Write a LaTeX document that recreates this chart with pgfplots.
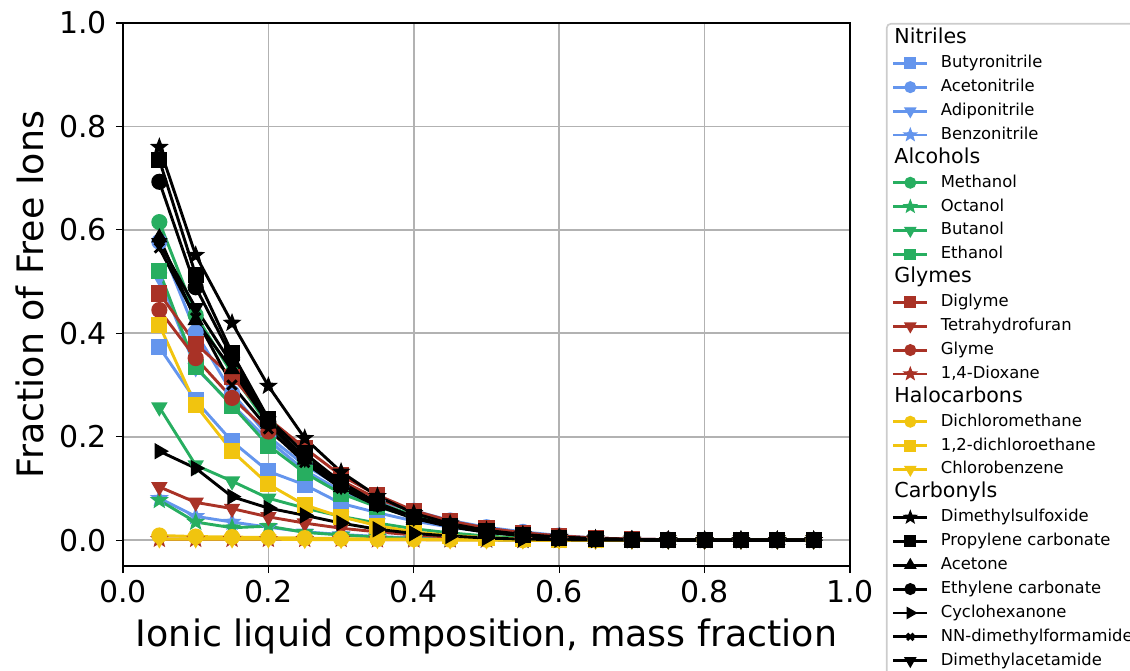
\documentclass[border=0pt]{standalone}
\usepackage{pgfplots}
\pgfplotsset{compat=1.18}
\usepackage{pgfplotstable}
\usetikzlibrary{plotmarks}
\usepackage{fontspec}
\setmainfont{DejaVu Sans}
\definecolor{cblue}{RGB}{100,149,237}
\definecolor{cgreen}{RGB}{39,174,96}
\definecolor{cred}{RGB}{169,50,38}
\definecolor{cyellow}{RGB}{241,196,15}
\pgfdeclareplotmark{fstar}{%
  \pgfpathmoveto{\pgfpointpolar{90}{\pgfplotmarksize}}%
  \pgfpathlineto{\pgfpointpolar{126}{0.42\pgfplotmarksize}}%
  \pgfpathlineto{\pgfpointpolar{162}{\pgfplotmarksize}}%
  \pgfpathlineto{\pgfpointpolar{198}{0.42\pgfplotmarksize}}%
  \pgfpathlineto{\pgfpointpolar{234}{\pgfplotmarksize}}%
  \pgfpathlineto{\pgfpointpolar{270}{0.42\pgfplotmarksize}}%
  \pgfpathlineto{\pgfpointpolar{306}{\pgfplotmarksize}}%
  \pgfpathlineto{\pgfpointpolar{342}{0.42\pgfplotmarksize}}%
  \pgfpathlineto{\pgfpointpolar{18}{\pgfplotmarksize}}%
  \pgfpathlineto{\pgfpointpolar{54}{0.42\pgfplotmarksize}}%
  \pgfpathclose
  \pgfusepathqfillstroke}

\pgfplotstableread{
x    bu    ac    ad    bz
0.05 0.373 0.577 0.508 0.081
0.10 0.270 0.402 0.333 0.046
0.15 0.191 0.285 0.262 0.035
0.20 0.133 0.200 0.193 0.025
0.25 0.107 0.145 0.135 0.016
0.30 0.071 0.103 0.095 0.011
0.35 0.053 0.075 0.068 0.007
0.40 0.037 0.057 0.048 0.004
0.45 0.025 0.038 0.032 0.002
0.50 0.016 0.025 0.021 0.001
0.55 0.010 0.016 0.013 0.000
0.60 0.006 0.009 0.007 0.000
0.65 0.003 0.004 0.003 0.000
0.70 0.001 0.002 0.001 0.000
0.75 0.000 0.001 0.000 0.000
0.80 0.000 0.000 0.000 0.000
0.85 0.000 0.000 0.000 0.000
0.90 0.000 0.000 0.000 0.000
0.95 0.000 0.000 0.000 0.000
}\nitriles

\pgfplotstableread{
x    me    oc    bu    et
0.05 0.615 0.077 0.257 0.520
0.10 0.435 0.035 0.145 0.335
0.15 0.322 0.024 0.114 0.260
0.20 0.222 0.027 0.081 0.183
0.25 0.155 0.015 0.062 0.130
0.30 0.105 0.010 0.046 0.090
0.35 0.072 0.006 0.033 0.064
0.40 0.048 0.003 0.022 0.045
0.45 0.031 0.002 0.014 0.030
0.50 0.019 0.001 0.008 0.019
0.55 0.011 0.000 0.004 0.011
0.60 0.006 0.000 0.002 0.006
0.65 0.003 0.000 0.001 0.003
0.70 0.001 0.000 0.000 0.001
0.75 0.000 0.000 0.000 0.000
0.80 0.000 0.000 0.000 0.000
0.85 0.000 0.000 0.000 0.000
0.90 0.000 0.000 0.000 0.000
0.95 0.000 0.000 0.000 0.000
}\alcohols

\pgfplotstableread{
x    di    th    gl    dx
0.05 0.477 0.103 0.445 0.002
0.10 0.380 0.073 0.352 0.002
0.15 0.316 0.061 0.275 0.002
0.20 0.235 0.045 0.210 0.002
0.25 0.178 0.033 0.160 0.002
0.30 0.125 0.023 0.115 0.002
0.35 0.087 0.016 0.080 0.001
0.40 0.057 0.010 0.055 0.001
0.45 0.037 0.006 0.036 0.001
0.50 0.023 0.003 0.023 0.001
0.55 0.014 0.002 0.014 0.000
0.60 0.008 0.001 0.008 0.000
0.65 0.004 0.000 0.004 0.000
0.70 0.002 0.000 0.002 0.000
0.75 0.001 0.000 0.001 0.000
0.80 0.000 0.000 0.000 0.000
0.85 0.000 0.000 0.000 0.000
0.90 0.000 0.000 0.000 0.000
0.95 0.000 0.000 0.000 0.000
}\glymes

\pgfplotstableread{
x    dcm   dce   cb
0.05 0.009 0.416 0.002
0.10 0.007 0.261 0.002
0.15 0.006 0.172 0.002
0.20 0.005 0.108 0.002
0.25 0.004 0.068 0.001
0.30 0.003 0.045 0.001
0.35 0.002 0.028 0.001
0.40 0.002 0.016 0.001
0.45 0.001 0.009 0.000
0.50 0.001 0.005 0.000
0.55 0.000 0.002 0.000
0.60 0.000 0.001 0.000
0.65 0.000 0.000 0.000
0.70 0.000 0.000 0.000
0.75 0.000 0.000 0.000
0.80 0.000 0.000 0.000
0.85 0.000 0.000 0.000
0.90 0.000 0.000 0.000
0.95 0.000 0.000 0.000
}\halocarbons

\pgfplotstableread{
x    dmso  pc    acet  ec    cyc   dmf   dmac
0.05 0.760 0.735 0.585 0.693 0.172 0.565 0.575
0.10 0.551 0.513 0.425 0.489 0.139 0.430 0.449
0.15 0.420 0.362 0.330 0.353 0.084 0.300 0.340
0.20 0.298 0.235 0.225 0.228 0.062 0.215 0.230
0.25 0.197 0.168 0.155 0.160 0.048 0.150 0.158
0.30 0.132 0.112 0.102 0.108 0.033 0.100 0.105
0.35 0.085 0.072 0.068 0.070 0.021 0.066 0.070
0.40 0.052 0.045 0.043 0.044 0.013 0.042 0.044
0.45 0.032 0.028 0.027 0.027 0.008 0.026 0.027
0.50 0.019 0.017 0.016 0.016 0.004 0.015 0.016
0.55 0.011 0.010 0.009 0.009 0.002 0.009 0.009
0.60 0.006 0.005 0.005 0.005 0.001 0.005 0.005
0.65 0.003 0.002 0.002 0.002 0.000 0.002 0.002
0.70 0.001 0.001 0.001 0.001 0.000 0.001 0.001
0.75 0.000 0.000 0.000 0.000 0.000 0.000 0.000
0.80 0.000 0.000 0.000 0.000 0.000 0.000 0.000
0.85 0.000 0.000 0.000 0.000 0.000 0.000 0.000
0.90 0.000 0.000 0.000 0.000 0.000 0.000 0.000
0.95 0.000 0.000 0.000 0.000 0.000 0.000 0.000
}\carbonyls

\newcommand{\hdr}[1]{\hspace*{-23.2pt}\fontsize{10.3}{12}\selectfont #1}

\begin{document}
\begin{tikzpicture}
\begin{axis}[
  scale only axis,
  width=363.5pt, height=271.5pt,
  xmin=0, xmax=1, ymin=-0.05, ymax=1,
  xtick={0,0.2,0.4,0.6,0.8,1},
  ytick={0,0.2,0.4,0.6,0.8,1},
  /pgf/number format/.cd, fixed, fixed zerofill, precision=1, assume math mode=true,
  /pgfplots/.cd,
  tick label style={font=\fontsize{15}{17}\selectfont},
  yticklabel style={xshift=-1pt},
  xlabel={Ionic liquid composition, mass fraction},
  ylabel={Fraction of Free Ions},
  every axis x label/.style={at={(axis description cs:0.5,-0.129)}, anchor=center, font=\fontsize{18.2}{21}\selectfont},
  every axis y label/.style={at={(axis description cs:-0.128,0.5)}, anchor=center, rotate=90, font=\fontsize{18.2}{21}\selectfont},
  tick pos=left, tick align=outside,
  major tick length=3.5pt,
  tick style={black, line width=0.6pt},
  axis line style={line width=0.8pt},
  grid=major,
  grid style={color=black!30, line width=0.8pt},
  every axis plot/.append style={line width=1.45pt, mark size=3.3pt},
  legend cell align=left,
  legend image post style={every mark/.append style={scale=0.68}},
  legend style={at={(1.0495,1)}, anchor=north west, draw=black!20, line width=0.8pt,
    rounded corners=2pt, font=\fontsize{8.2}{9.8}\selectfont,
    inner xsep=2.5pt, inner ysep=1.8pt,
    column sep=4pt,
    nodes={text height=6.15pt, text depth=1.8pt, inner sep=2pt},
    row sep=0pt},
]
\addlegendimage{empty legend}\addlegendentry{\hdr{Nitriles}}
\addplot[cblue, mark=square*] table[x=x,y=bu]{\nitriles};\addlegendentry{Butyronitrile}
\addplot[cblue, mark=*] table[x=x,y=ac]{\nitriles};\addlegendentry{Acetonitrile}
\addplot[cblue, mark=triangle*, mark options={rotate=180}] table[x=x,y=ad]{\nitriles};\addlegendentry{Adiponitrile}
\addplot[cblue, mark=fstar, mark size=2.9pt] table[x=x,y=bz]{\nitriles};\addlegendentry{Benzonitrile}

\addlegendimage{empty legend}\addlegendentry{\hdr{Alcohols}}
\addplot[cgreen, mark=*] table[x=x,y=me]{\alcohols};\addlegendentry{Methanol}
\addplot[cgreen, mark=fstar, mark size=2.9pt] table[x=x,y=oc]{\alcohols};\addlegendentry{Octanol}
\addplot[cgreen, mark=triangle*, mark options={rotate=180}] table[x=x,y=bu]{\alcohols};\addlegendentry{Butanol}
\addplot[cgreen, mark=square*] table[x=x,y=et]{\alcohols};\addlegendentry{Ethanol}

\addlegendimage{empty legend}\addlegendentry{\hdr{Glymes}}
\addplot[cred, mark=square*] table[x=x,y=di]{\glymes};\addlegendentry{Diglyme}
\addplot[cred, mark=triangle*, mark options={rotate=180}] table[x=x,y=th]{\glymes};\addlegendentry{Tetrahydrofuran}
\addplot[cred, mark=*] table[x=x,y=gl]{\glymes};\addlegendentry{Glyme}
\addplot[cred, mark=fstar, mark size=2.9pt] table[x=x,y=dx]{\glymes};\addlegendentry{1,4-Dioxane}

\addlegendimage{empty legend}\addlegendentry{\hdr{Halocarbons}}
\addplot[cyellow, mark=*] table[x=x,y=dcm]{\halocarbons};\addlegendentry{Dichloromethane}
\addplot[cyellow, mark=square*] table[x=x,y=dce]{\halocarbons};\addlegendentry{1,2-dichloroethane}
\addplot[cyellow, mark=triangle*, mark options={rotate=180}] table[x=x,y=cb]{\halocarbons};\addlegendentry{Chlorobenzene}

\addlegendimage{empty legend}\addlegendentry{\hdr{Carbonyls}}
\addplot[black, mark=fstar, mark size=2.9pt] table[x=x,y=dmso]{\carbonyls};\addlegendentry{Dimethylsulfoxide}
\addplot[black, mark=square*] table[x=x,y=pc]{\carbonyls};\addlegendentry{Propylene carbonate}
\addplot[black, mark=triangle*] table[x=x,y=acet]{\carbonyls};\addlegendentry{Acetone}
\addplot[black, mark=*] table[x=x,y=ec]{\carbonyls};\addlegendentry{Ethylene carbonate}
\addplot[black, mark=triangle*, mark options={rotate=-90}] table[x=x,y=cyc]{\carbonyls};\addlegendentry{Cyclohexanone}
\addplot[black, mark=x] table[x=x,y=dmf]{\carbonyls};\addlegendentry{NN-dimethylformamide}
\addplot[black, mark=triangle*, mark options={rotate=180}] table[x=x,y=dmac]{\carbonyls};\addlegendentry{Dimethylacetamide}
\end{axis}
\pgfresetboundingbox
\path[use as bounding box] (-61.5pt,-52pt) rectangle (503.5pt,283pt);
\end{tikzpicture}
\end{document}
